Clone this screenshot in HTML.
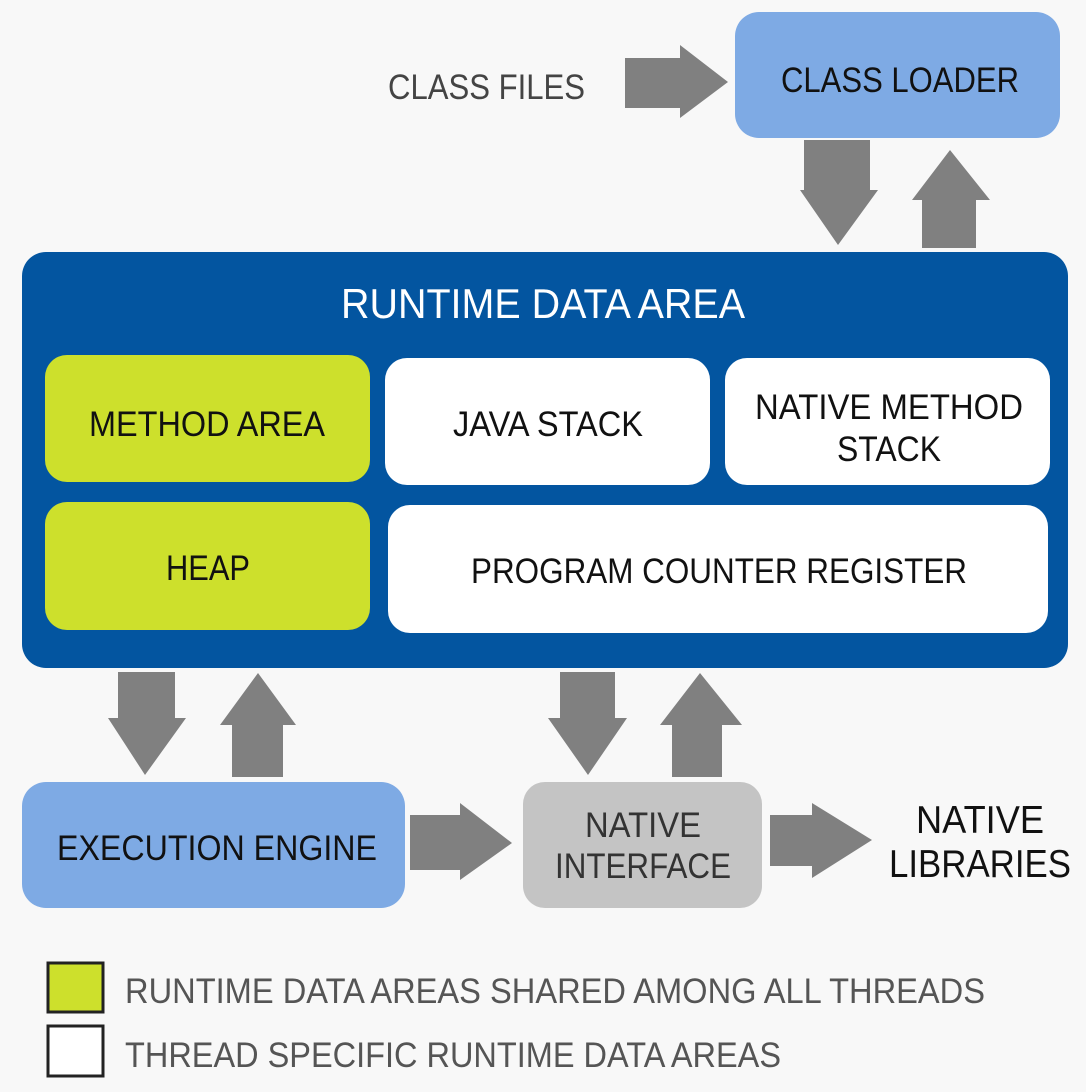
<!DOCTYPE html>
<html><head><meta charset="utf-8"><style>
html,body{margin:0;padding:0;background:#f8f8f8;}
svg{display:block;}
text{font-family:"Liberation Sans",sans-serif;}
</style></head><body>
<svg width="1086" height="1092" viewBox="0 0 1086 1092" xmlns="http://www.w3.org/2000/svg">
<rect width="1086" height="1092" fill="#f8f8f8"/>
<g fill="#808080">
<polygon points="625,58 680,58 680,45 728,82 680,118 680,108 625,108"/>
<polygon points="804,140 870,140 870,190 878,190 838,245 800,190 804,190"/>
<polygon points="922,248 976,248 976,200 990,200 950,150 912,200 922,200"/>
<polygon points="118,672 175,672 175,718 186,718 145,775 108,718 118,718"/>
<polygon points="232,777 283,777 283,725 296,725 258,673 220,725 232,725"/>
<polygon points="560,672 615,672 615,718 627,718 588,775 548,718 560,718"/>
<polygon points="672,777 722,777 722,725 742,725 700,673 660,725 672,725"/>
<polygon points="410,815 460,815 460,803 512,843 460,880 460,870 410,870"/>
<polygon points="770,815 812,815 812,803 872,840 812,878 812,866 770,866"/>
</g>
<text x="388" y="99" font-size="35" fill="#444" textLength="197" lengthAdjust="spacingAndGlyphs">CLASS FILES</text>
<rect x="735" y="12" width="325" height="126" rx="24" fill="#7eaae4"/>
<text x="900" y="92" font-size="35" fill="#111" text-anchor="middle" textLength="238" lengthAdjust="spacingAndGlyphs">CLASS LOADER</text>

<rect x="22" y="252" width="1046" height="416" rx="24" fill="#0355a0"/>
<text x="543" y="318" font-size="42" fill="#fff" text-anchor="middle" textLength="404" lengthAdjust="spacingAndGlyphs">RUNTIME DATA AREA</text>
<rect x="45" y="355" width="325" height="127" rx="22" fill="#cde02c"/>
<text x="207" y="436" font-size="35" fill="#111" text-anchor="middle" textLength="236" lengthAdjust="spacingAndGlyphs">METHOD AREA</text>
<rect x="385" y="358" width="325" height="127" rx="22" fill="#fff"/>
<text x="548" y="436" font-size="35" fill="#111" text-anchor="middle" textLength="190" lengthAdjust="spacingAndGlyphs">JAVA STACK</text>
<rect x="725" y="358" width="325" height="127" rx="22" fill="#fff"/>
<text x="889" y="419" font-size="35" fill="#111" text-anchor="middle" textLength="268" lengthAdjust="spacingAndGlyphs">NATIVE METHOD</text>
<text x="889" y="461" font-size="35" fill="#111" text-anchor="middle" textLength="104" lengthAdjust="spacingAndGlyphs">STACK</text>
<rect x="45" y="502" width="325" height="128" rx="22" fill="#cde02c"/>
<text x="208" y="580" font-size="35" fill="#111" text-anchor="middle" textLength="84" lengthAdjust="spacingAndGlyphs">HEAP</text>
<rect x="388" y="505" width="660" height="128" rx="22" fill="#fff"/>
<text x="719" y="583" font-size="35" fill="#111" text-anchor="middle" textLength="496" lengthAdjust="spacingAndGlyphs">PROGRAM COUNTER REGISTER</text>

<rect x="22" y="782" width="383" height="126" rx="24" fill="#7eaae4"/>
<text x="217" y="860" font-size="35" fill="#111" text-anchor="middle" textLength="320" lengthAdjust="spacingAndGlyphs">EXECUTION ENGINE</text>
<rect x="523" y="782" width="239" height="126" rx="22" fill="#c4c4c4"/>
<text x="643" y="837" font-size="35" fill="#333" text-anchor="middle" textLength="116" lengthAdjust="spacingAndGlyphs">NATIVE</text>
<text x="643" y="878" font-size="35" fill="#333" text-anchor="middle" textLength="176" lengthAdjust="spacingAndGlyphs">INTERFACE</text>
<text x="980" y="833" font-size="39" fill="#111" text-anchor="middle" textLength="128" lengthAdjust="spacingAndGlyphs">NATIVE</text>
<text x="980" y="877" font-size="39" fill="#111" text-anchor="middle" textLength="182" lengthAdjust="spacingAndGlyphs">LIBRARIES</text>

<rect x="48" y="963" width="55" height="49" fill="#cde02c" stroke="#222" stroke-width="3"/>
<text x="125" y="1003" font-size="35" fill="#555" textLength="860" lengthAdjust="spacingAndGlyphs">RUNTIME DATA AREAS SHARED AMONG ALL THREADS</text>
<rect x="48" y="1026" width="55" height="50" fill="#fff" stroke="#222" stroke-width="3"/>
<text x="125" y="1067" font-size="35" fill="#555" textLength="656" lengthAdjust="spacingAndGlyphs">THREAD SPECIFIC RUNTIME DATA AREAS</text>
</svg>
</body></html>
